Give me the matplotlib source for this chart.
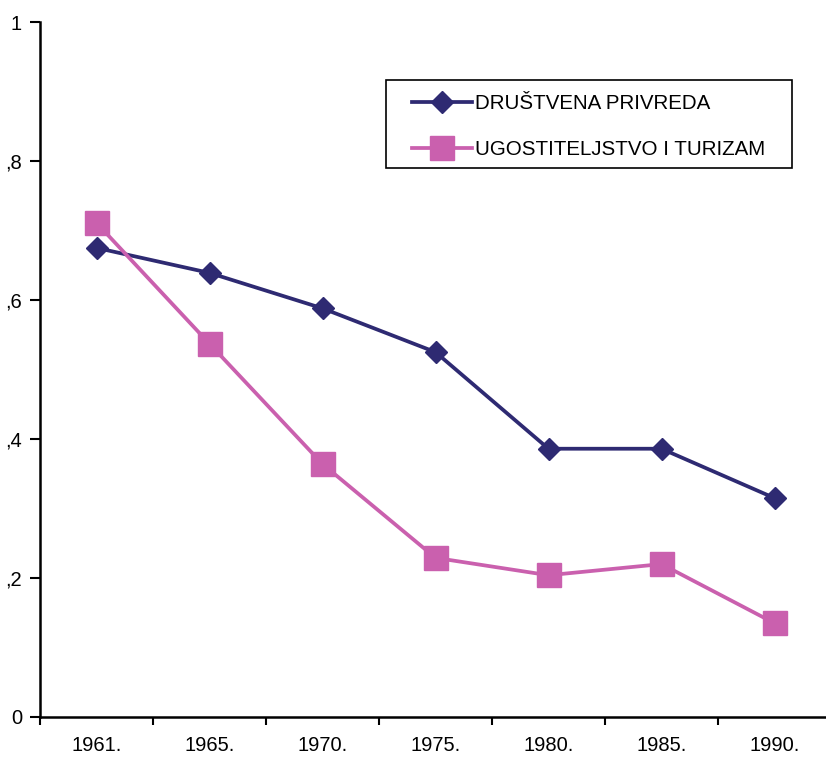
import matplotlib.pyplot as plt
from matplotlib.patches import Rectangle
import numpy as np

plt.rcParams['font.family'] = ['Liberation Sans', 'DejaVu Sans']

years = ["1961.", "1965.", "1970.", "1975.", "1980.", "1985.", "1990."]
drustvena = [0.675, 0.639, 0.588, 0.525, 0.386, 0.386, 0.315]
ugostiteljstvo = [0.711, 0.537, 0.364, 0.229, 0.204, 0.220, 0.135]
ytick_vals = [0, 0.2, 0.4, 0.6, 0.8, 1.0]
ytick_labels = ["0", ",2", ",4", ",6", ",8", "1"]

navy = "#2E2A72"
pink = "#CA60AE"
W, H = 826, 758

fig = plt.figure(figsize=(W / 100, H / 100), dpi=100)
# axes runs slightly past the right edge, like the original crop
ax = fig.add_axes([40 / W, 41 / H, 791 / W, 695 / H])

x = np.arange(len(years))
ax.plot(x, drustvena, color=navy, lw=2.7, marker='D', ms=11,
        label="DRUŠTVENA PRIVREDA")
ax.plot(x, ugostiteljstvo, color=pink, lw=2.7, marker='s', ms=17.5,
        label="UGOSTITELJSTVO I TURIZAM")

ax.set_xlim(-0.5, len(years) - 0.5)
ax.set_ylim(0, 1)

# category axis: ticks between categories, labels centred
ax.set_xticks(np.arange(len(years) + 1) - 0.5)
ax.set_xticklabels([])
ax.set_xticks(x, minor=True)
ax.set_xticklabels(years, minor=True, fontsize=14.5)
ax.tick_params(axis='x', which='major', direction='out', length=6, width=1.5)
ax.tick_params(axis='x', which='minor', length=0, pad=14)

ax.set_yticks(ytick_vals)
ax.set_yticklabels(ytick_labels, fontsize=14.5)
ax.tick_params(axis='y', direction='out', length=7, width=1.5, pad=6)

for side in ['top', 'right']:
    ax.spines[side].set_visible(False)
for side in ['left', 'bottom']:
    ax.spines[side].set_linewidth(1.8)

# legend entries without frame, box drawn separately
leg = fig.legend(loc='upper left', bbox_to_anchor=(412 / W, 1 - 94 / H),
                 fontsize=14.8, frameon=False, borderpad=0, labelspacing=1.3,
                 handlelength=2.9, handletextpad=0.15, borderaxespad=0)
fig.add_artist(Rectangle((386 / W, 1 - 168 / H), 406 / W, 88 / H,
                         transform=fig.transFigure, fill=False,
                         edgecolor='black', lw=1.2))

fig.savefig("out.png", dpi=100)
